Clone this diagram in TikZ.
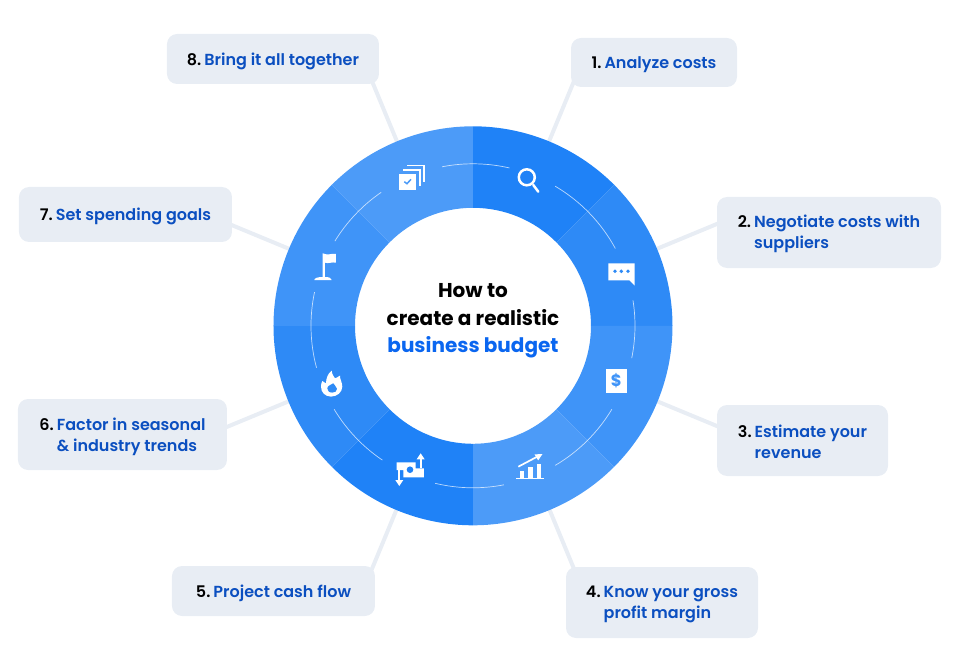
\documentclass[tikz,border=0pt]{standalone}
\usepackage{fontspec}
\usepackage{array}
\setmainfont{Poppins}
\newfontfamily\labelfont{Poppins SemiBold}
\newfontfamily\titlefont{Poppins Bold}
\usetikzlibrary{math,backgrounds}
\definecolor{segA}{HTML}{1F82F7}
\definecolor{segB}{HTML}{2E8AF6}
\definecolor{segC}{HTML}{3F94F8}
\definecolor{segD}{HTML}{4C9BF8}
\definecolor{boxgray}{HTML}{E8EDF4}
\definecolor{labelblue}{HTML}{0B4FC0}
\definecolor{titleblue}{HTML}{0A66F0}
\newcommand{\steptext}[2]{\raisebox{-2pt}[\height][\depth]{\begin{tabular}{@{}l@{\hspace{3pt}}l@{}}\textcolor{black}{#1} & \textcolor{labelblue}{#2}\end{tabular}}}
\newcommand{\steptwo}[4][-1pt]{\raisebox{#1}[\height][\depth]{\begin{tabular}{@{}l@{\hspace{3pt}}l@{}}\textcolor{black}{#2} & \textcolor{labelblue}{#3}\\ & \textcolor{labelblue}{#4}\end{tabular}}}
\tikzset{
  stepbox/.style={fill=boxgray, rounded corners=10pt, inner sep=0pt, font=\labelfont\fontsize{16}{21}\selectfont},
  spoke/.style={draw=boxgray, line width=4pt},
  thinarc/.style={draw=white, opacity=0.7, line width=0.7pt, yshift=-0.8pt},
}
\begin{document}
\begin{tikzpicture}[x=1pt,y=1pt]
  \tikzmath{\rout = 199.5; \rin = 118; \rmid = 162; \rtip = 270;}
  \useasboundingbox (-473,-331) rectangle (483,325);
  % centre
  \node[circle, minimum size=236pt, inner sep=0pt] (hub) at (0,0) {};
  \node[align=center, inner sep=0pt, font=\titlefont\fontsize{20}{27.5}\selectfont] (title) at (0,4) {How to\\create a realistic\\\textcolor{titleblue}{business budget}};
  % label boxes
  \node[stepbox, minimum width=166pt, minimum height=49pt] (box1) at (181,262.5) {\steptext{1.}{Analyze costs}};
  \node[stepbox, minimum width=224pt, minimum height=71pt] (box2) at (356,92.5) {\steptwo{2.}{Negotiate costs with}{suppliers}};
  \node[stepbox, minimum width=171pt, minimum height=71pt] (box3) at (329.5,-115.5) {\steptwo[-3pt]{3.}{Estimate your}{revenue}};
  \node[stepbox, minimum width=192pt, minimum height=71pt] (box4) at (189,-277.5) {\steptwo{4.}{Know your gross}{profit margin}};
  \node[stepbox, minimum width=203pt, minimum height=50pt] (box5) at (-199.5,-266) {\steptext{5.}{Project cash flow}};
  \node[stepbox, minimum width=209pt, minimum height=71pt] (box6) at (-350.5,-109.5) {\steptwo[-2pt]{6.}{Factor in seasonal}{\& industry trends}};
  \node[stepbox, minimum width=213pt, minimum height=55pt] (box7) at (-347.5,110.5) {\steptext{7.}{Set spending goals}};
  \node[stepbox, minimum width=212pt, minimum height=50pt] (box8) at (-200,266) {\steptext{8.}{Bring it all together}};
  % ring and spokes go under the nodes
  \begin{pgfonlayer}{background}
    \foreach \n/\ang in {1/67.5,2/22.5,3/-22.5,4/-67.5,5/-112.5,6/-157.5,7/157.5,8/112.5} {
      \coordinate (tip\n) at (\ang:\rtip);
      \draw[spoke] (hub) -- (tip\n);
    }
    \foreach \a/\b/\col in {90/45/segA,45/0/segB,0/-45/segC,-45/-90/segD,-90/-135/segA,-135/-180/segB,180/135/segC,135/90/segD} {
      \fill[\col, yshift=-0.8pt] (\a:\rout) arc (\a:\b:\rout) -- (\b:\rin) arc (\b:\a:\rin) -- cycle;
    }
  \end{pgfonlayer}
  % thin arcs between the icons
  \foreach \a/\b in {77/101,28.5/59.5,-11.5/9,-59.5/-31,-103.5/-79,-149/-124,168/195,124.5/148.5} {
    \draw[thinarc] (\a:\rmid) arc (\a:\b:\rmid);
  }
  % 1 search
  \draw[white, line width=2.5pt] (53.8,147.7) circle (8);
  \draw[white, line width=2.5pt, line cap=round] (60.3,140) -- (65.3,133.3);
  % 2 chat
  \fill[white] (135.3,61.7) -- (161.7,61.7) -- (161.7,39.3) -- (156.3,44.7) -- (135.3,44.7) -- cycle;
  \foreach \x in {142,148.3,155} \fill[segB] (\x,53.7) circle (1.9);
  % 3 dollar
  \fill[white] (133,-43.7) rectangle (154,-68);
  \node[text=segC, font=\titlefont\fontsize{16.5}{16.5}\selectfont, inner sep=0pt] (dollar) at (143.3,-55.7) {\$};
  % 4 chart
  \fill[white] (43,-152.7) rectangle (70.7,-154.3);
  \fill[white] (47,-152.7) rectangle (51.3,-145.7);
  \fill[white] (55.3,-152.7) rectangle (59.7,-142.3);
  \fill[white] (63.7,-152.7) rectangle (68,-139);
  \draw[white, line width=1.7pt] (45.3,-141.7) -- (64,-131.8);
  \fill[white] (69.5,-129) -- (61.5,-129.4) -- (65.2,-135.4) -- cycle;
  % 5 money
  \fill[white] (-76.3,-137.3) -- (-57.3,-137.3) -- (-57.3,-143.3) -- (-49,-143.3) -- (-49,-152.3) -- (-69.7,-152.3) -- (-69.7,-145) -- (-76.3,-145) -- cycle;
  \fill[segA] (-63,-144.7) circle (3.3);
  \draw[white, line width=2pt] (-52.3,-134) -- (-52.3,-143);
  \fill[white] (-52.3,-128.3) -- (-48.3,-134.3) -- (-56.3,-134.3) -- cycle;
  \draw[white, line width=2pt] (-73.7,-145) -- (-73.7,-155);
  \fill[white] (-73.7,-161) -- (-69.7,-155) -- (-77.7,-155) -- cycle;
  % 6 flame
  \begin{scope}[shift={(-142,-59.3)}]
    \fill[white] (0,-12.3) .. controls (-6,-12.3) and (-10,-8) .. (-10,-2.3) .. controls (-10,0) and (-9.5,2) .. (-8.7,3.3) .. controls (-7.5,2.5) and (-6,1.5) .. (-5,1) .. controls (-5,6) and (-3,11) .. (0.7,13.7) .. controls (1,10) and (2.5,8) .. (4,6) .. controls (5.5,6.5) and (7.5,7.5) .. (9,8.7) .. controls (8.5,6) and (11.3,2) .. (11.3,-2.3) .. controls (11.3,-8) and (6,-12.3) .. (0,-12.3) -- cycle;
    \fill[segB] (1.3,-8.3) .. controls (-2,-8.3) and (-3.7,-6.5) .. (-3.7,-4) .. controls (-3.7,-1.5) and (0,-0.5) .. (2.3,1) .. controls (2.5,-1) and (6,-2) .. (6,-4.5) .. controls (6,-7) and (4,-8.3) .. (1.3,-8.3) -- cycle;
  \end{scope}
  % 7 flag
  \fill[white] (-158.7,45) -- (-141.3,45) .. controls (-141.3,47) and (-144,48) .. (-148,48) -- (-148,71) -- (-150.3,71.7) -- (-150.3,48) .. controls (-155,48) and (-158.7,47) .. (-158.7,45) -- cycle;
  \fill[white] (-148,71) .. controls (-145,69.5) and (-141,72) .. (-137,71) -- (-137,62.3) .. controls (-141,63.3) and (-145,61) .. (-148,62.3) -- cycle;
  % 8 documents
  \fill[white] (-73.7,150.7) rectangle (-57.3,134.7);
  \draw[segD, line width=1.5pt] (-68.7,143.3) -- (-66,141.3) -- (-62,145.7);
  \draw[white, line width=1.6pt] (-69.7,155) -- (-53,155) -- (-53,139);
  \draw[white, line width=1.6pt] (-65.7,159.3) -- (-48.7,159.3) -- (-48.7,142.7);
\end{tikzpicture}
\end{document}
